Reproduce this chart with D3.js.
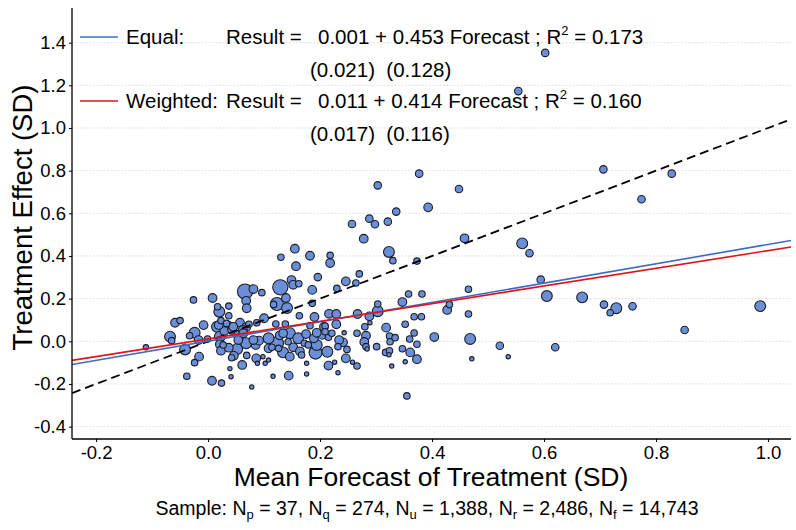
<!DOCTYPE html>
<html>
<head>
<meta charset="utf-8">
<script src="https://cdn.jsdelivr.net/npm/d3@7"></script>
<style>
  body { margin: 0; background: #fff; }
  svg { display: block; font-family: "Liberation Sans", Arial, sans-serif; }
</style>
</head>
<body>
<div id="chart"></div>
<script>
// mean forecast (x), treatment effect (y), weight (bubble size)
const forecast = [
  0.602, 0.554, 0.706, 0.828, 0.774, 0.377, 0.303, 0.448, 0.393, 0.336,
  0.288, 0.257, 0.298, 0.321, 0.278, 0.458, 0.323, 0.330, 0.373, 0.155,
  0.130, 0.182, 0.218, 0.218, 0.157, 0.196, 0.270, 0.246, 0.264, 0.149,
  0.152, 0.162, 0.129, 0.066, 0.081, 0.096, 0.123, 0.139, 0.141, 0.117,
  0.186, 0.186, 0.068, 0.069, 0.008, -0.026, 0.017, 0.020, 0.037, 0.037,
  -0.059, -0.050, -0.008, 0.016, 0.023, 0.037, 0.057, 0.068, 0.100, 0.087,
  0.121, 0.138, 0.163, 0.190, 0.216, 0.229, 0.229, 0.209, 0.267, 0.288,
  0.303, 0.303, 0.347, 0.358, 0.382, 0.427, 0.431, 0.465, 0.465, 0.468,
  0.368, 0.381, 0.352, 0.368, 0.318, 0.324, 0.325, 0.334, 0.360, 0.404,
  0.373, 0.347, 0.361, 0.317, 0.323, 0.373, 0.352, 0.328, 0.301, 0.282,
  0.280, 0.279, 0.266, 0.284, 0.266, 0.246, 0.241, 0.248, 0.232, 0.243,
  0.215, 0.213, 0.226, 0.232, 0.192, 0.176, 0.176, 0.144, 0.116, 0.078,
  0.041, 0.039, 0.024, 0.007, -0.038, -0.024, -0.016, -0.041, -0.068, -0.065,
  -0.024, -0.033, -0.017, -0.001, 0.021, 0.029, 0.043, 0.054, 0.062, 0.073,
  0.021, 0.023, 0.037, 0.052, 0.042, 0.061, 0.069, 0.086, 0.088, 0.102,
  0.108, 0.054, 0.068, 0.085, 0.091, 0.108, 0.108, 0.123, 0.128, 0.134,
  0.146, 0.143, 0.152, 0.161, 0.164, 0.172, 0.175, 0.182, 0.189, 0.194,
  0.204, 0.207, 0.215, 0.221, 0.234, 0.258, -0.111, 0.033, 0.019, 0.027,
  0.046, 0.045, 0.063, 0.230, 0.289, 0.209, 0.194, 0.134, 0.081, 0.114,
  0.126, 0.098, 0.146, 0.167, 0.179, 0.282, 0.324, 0.355, 0.561, 0.574,
  0.594, 0.605, 0.668, 0.707, 0.729, 0.718, 0.758, 0.986, 0.851, 0.521,
  0.620, 0.471, 0.536
];
const effect = [
  1.352, 1.173, 0.806, 0.786, 0.666, 0.786, 0.731, 0.714, 0.628, 0.608,
  0.575, 0.550, 0.549, 0.561, 0.481, 0.483, 0.419, 0.378, 0.376, 0.434,
  0.394, 0.401, 0.403, 0.367, 0.352, 0.301, 0.316, 0.281, 0.273, 0.287,
  0.265, 0.270, 0.253, 0.233, 0.245, 0.228, 0.175, 0.203, 0.156, 0.173,
  0.241, 0.178, 0.190, 0.155, 0.203, 0.194, 0.162, 0.139, 0.165, 0.120,
  0.087, 0.097, 0.076, 0.068, 0.097, 0.072, 0.087, 0.066, 0.108, 0.087,
  0.081, 0.081, 0.120, 0.114, 0.129, 0.128, 0.080, 0.072, 0.128, 0.117,
  0.141, 0.175, 0.184, 0.222, 0.222, 0.147, 0.172, 0.244, 0.128, 0.011,
  0.115, 0.115, 0.080, 0.039, 0.064, 0.025, -0.002, 0.017, 0.011, 0.020,
  -0.014, -0.035, -0.052, -0.052, -0.063, -0.084, -0.096, -0.116, -0.025, 0.026,
  0.068, -0.003, 0.038, -0.036, -0.116, -0.080, -0.005, -0.038, -0.025, 0.040,
  -0.114, -0.049, -0.098, -0.147, -0.053, -0.103, -0.153, -0.161, -0.164, -0.214,
  -0.166, -0.128, -0.196, -0.185, -0.164, -0.100, -0.072, -0.038, 0.022, 0.003,
  0.040, 0.026, 0.006, 0.011, 0.022, 0.048, 0.053, 0.030, 0.053, 0.080,
  -0.014, -0.044, -0.030, -0.036, -0.077, -0.111, -0.066, -0.080, -0.103, -0.103,
  -0.088, 0.006, -0.009, -0.017, 0.003, 0.014, -0.033, -0.009, 0.028, -0.052,
  0.038, -0.002, -0.028, 0.014, -0.047, -0.009, 0.034, 0.073, 0.014, -0.017,
  0.030, 0.068, 0.019, 0.038, 0.006, -0.098, -0.028, 0.084, 0.076, -0.017,
  -0.068, 0.068, 0.038, 0.248, 0.087, 0.045, 0.040, 0.038, 0.006, -0.028,
  -0.033, -0.072, -0.072, -0.064, -0.017, -0.025, -0.044, -0.256, 0.459, 0.413,
  0.289, 0.212, 0.206, 0.172, 0.155, 0.134, 0.164, 0.165, 0.053, -0.021,
  -0.028, -0.082, -0.072
];
const weight = [
  12, 12, 12, 12, 12, 12, 12, 12, 16, 12,
  12, 12, 12, 12, 16, 16, 25, 9, 9, 16,
  9, 16, 9, 16, 16, 12, 9, 16, 9, 16,
  16, 9, 49, 49, 16, 9, 36, 16, 25, 9,
  16, 9, 16, 16, 16, 9, 9, 25, 9, 9,
  16, 9, 16, 25, 9, 16, 16, 16, 16, 9,
  9, 9, 9, 16, 16, 16, 16, 9, 16, 16,
  25, 9, 16, 9, 9, 16, 9, 9, 9, 25,
  9, 9, 9, 9, 16, 9, 9, 9, 9, 16,
  9, 9, 16, 9, 4, 16, 4, 4, 9, 16,
  9, 16, 9, 4, 9, 16, 16, 9, 9, 4,
  16, 25, 4, 4, 36, 4, 4, 16, 4, 4,
  4, 4, 9, 16, 9, 9, 16, 25, 25, 9,
  25, 9, 16, 9, 25, 16, 16, 16, 16, 9,
  16, 16, 16, 25, 9, 16, 9, 16, 4, 4,
  4, 16, 25, 16, 16, 25, 16, 36, 16, 25,
  25, 9, 16, 25, 16, 9, 16, 9, 16, 25,
  16, 16, 9, 9, 16, 4, 6, 9, 16, 9,
  16, 16, 16, 9, 4, 9, 16, 16, 16, 9,
  9, 4, 16, 9, 9, 9, 9, 9, 25, 12,
  12, 25, 25, 12, 25, 9, 12, 25, 12, 12,
  12, 4, 4
];

const xTicks = [-0.2, 0.0, 0.2, 0.4, 0.6, 0.8, 1.0];
const yTicks = [-0.4, -0.2, 0.0, 0.2, 0.4, 0.6, 0.8, 1.0, 1.2, 1.4];

// fits: Result = a + b * Forecast
const fitNames = ["Equal", "Weighted"];
const fitIntercept = [0.001, 0.011];
const fitSlope = [0.453, 0.414];
const fitInterceptSE = [0.021, 0.017];
const fitSlopeSE = [0.128, 0.116];
const fitR2 = [0.173, 0.160];

const sampleLabels = ["p", "q", "u", "r", "f"];
const sampleCounts = [37, 274, 1388, 2486, 14743];

const width = 796, height = 530;
const margin = { left: 72, right: 5, top: 8, bottom: 91 };

const svg = d3.select("#chart").append("svg")
  .attr("width", width)
  .attr("height", height);

const x = d3.scaleLinear()
  .domain([-0.243, 1.041])
  .range([margin.left, width - margin.right]);
const y = d3.scaleLinear()
  .domain([-0.458, 1.5625])
  .range([height - margin.bottom, margin.top]);
const r = d3.scaleSqrt().domain([0, 49]).range([0, 7.6]);

svg.append("defs").append("clipPath").attr("id", "plot")
  .append("rect")
  .attr("x", margin.left).attr("y", margin.top)
  .attr("width", width - margin.left - margin.right)
  .attr("height", height - margin.top - margin.bottom);

// grid
svg.append("g")
  .selectAll("line")
  .data(yTicks)
  .join("line")
  .attr("x1", margin.left).attr("x2", width - margin.right)
  .attr("y1", d => y(d)).attr("y2", d => y(d))
  .attr("stroke", "#e6dede")
  .attr("stroke-width", 1)
  .attr("stroke-dasharray", "2,1.5");

// bubbles
const points = forecast.map((f, i) => ({ f, e: effect[i], w: weight[i] }))
  .sort((a, b) => b.w - a.w);
svg.append("g")
  .selectAll("circle")
  .data(points)
  .join("circle")
  .attr("cx", d => x(d.f))
  .attr("cy", d => y(d.e))
  .attr("r", d => r(d.w))
  .attr("fill", "#6a8fd6")
  .attr("stroke", "#1c1c28")
  .attr("stroke-width", 1.1);

// lines
const lineG = svg.append("g").attr("clip-path", "url(#plot)");
const xd = x.domain();
const line = d3.line().x(d => x(d[0])).y(d => y(d[1]));

lineG.append("path")
  .attr("d", line(xd.map(v => [v, v])))
  .attr("fill", "none")
  .attr("stroke", "#000")
  .attr("stroke-width", 1.8)
  .attr("stroke-dasharray", "9,5");

const fitColors = ["#3b6cc6", "#e3131b"];
fitNames.forEach((n, i) => {
  lineG.append("path")
    .attr("d", line(xd.map(v => [v, fitIntercept[i] + fitSlope[i] * v])))
    .attr("fill", "none")
    .attr("stroke", fitColors[i])
    .attr("stroke-width", 1.6);
});

// axes
const xAxis = d3.axisBottom(x).tickValues(xTicks).tickSize(3).tickPadding(4)
  .tickFormat(d => d.toFixed(1));
const yAxis = d3.axisLeft(y).tickValues(yTicks).tickSize(3).tickPadding(3)
  .tickFormat(d => d.toFixed(1));

const gx = svg.append("g")
  .attr("transform", `translate(0,${height - margin.bottom})`)
  .call(xAxis);
const gy = svg.append("g")
  .attr("transform", `translate(${margin.left},0)`)
  .call(yAxis);
[gx, gy].forEach(g => {
  g.select(".domain").attr("stroke", "#000").attr("stroke-width", 1.3);
  g.selectAll(".tick line").attr("stroke", "#000");
  g.selectAll(".tick text")
    .attr("fill", "#000")
    .style("font-family", "'Liberation Sans', Arial, sans-serif")
    .style("font-size", "18.5px");
});
gx.select(".domain").attr("d", `M${margin.left},0H${width - margin.right}`);
gy.select(".domain").attr("d", `M0,${margin.top}V${height - margin.bottom}`);

// axis titles
svg.append("text")
  .attr("x", 431)
  .attr("y", 486)
  .attr("text-anchor", "middle")
  .style("font-size", "26.5px")
  .text("Mean Forecast of Treatment (SD)");
svg.append("text")
  .attr("transform", `translate(32,${(margin.top + height - margin.bottom) / 2 - 6}) rotate(-90)`)
  .attr("text-anchor", "middle")
  .style("font-size", "27.5px")
  .text("Treatment Effect (SD)");

// legend
const legendY = [37, 101];
const fs = "20.5px";
fitNames.forEach((n, i) => {
  const ly = legendY[i];
  svg.append("line")
    .attr("x1", 80).attr("x2", 118)
    .attr("y1", ly).attr("y2", ly)
    .attr("stroke", fitColors[i]).attr("stroke-width", 1.6);
  svg.append("text").attr("x", 126).attr("y", ly + 7)
    .style("font-size", fs).text(n + ":");
  svg.append("text").attr("x", 226).attr("y", ly + 7)
    .style("font-size", fs).text("Result =");
  const t = svg.append("text").attr("x", 318).attr("y", ly + 7)
    .style("font-size", fs);
  t.append("tspan").text(
    `${fitIntercept[i].toFixed(3)} + ${fitSlope[i].toFixed(3)} Forecast ; R`);
  t.append("tspan").attr("dy", -9).style("font-size", "13px").text("2");
  t.append("tspan").attr("dy", 9).text(` = ${fitR2[i].toFixed(3)}`);
  svg.append("text").attr("x", 310).attr("y", ly + 40)
    .style("font-size", fs)
    .attr("xml:space", "preserve")
    .text(`(${fitInterceptSE[i].toFixed(3)})  (${fitSlopeSE[i].toFixed(3)})`);
});

// sample caption
const cap = svg.append("text")
  .attr("x", 427).attr("y", 515)
  .attr("text-anchor", "middle")
  .style("font-size", "19.5px");
cap.append("tspan").text("Sample: ");
const fmt = d3.format(",");
sampleLabels.forEach((s, i) => {
  cap.append("tspan").text("N");
  cap.append("tspan").attr("dy", 4).style("font-size", "13px").text(s);
  cap.append("tspan").attr("dy", -4)
    .text(` = ${fmt(sampleCounts[i])}${i < sampleLabels.length - 1 ? ", " : ""}`);
});
</script>
</body>
</html>
